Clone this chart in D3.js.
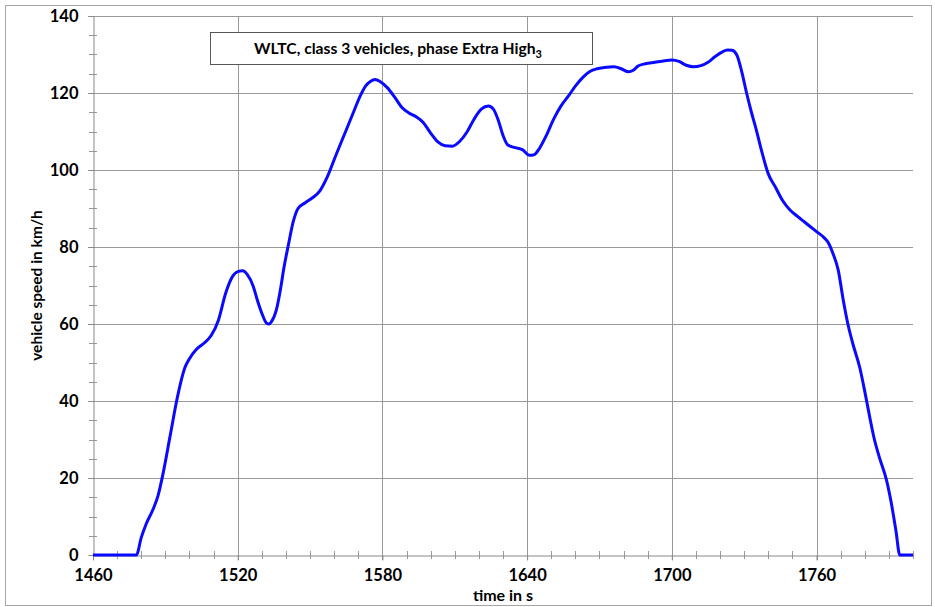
<!DOCTYPE html>
<html>
<head>
<meta charset="utf-8">
<script src="https://cdn.jsdelivr.net/npm/d3@7/dist/d3.min.js"></script>
<style>
  body { margin: 0; background: #fff; }
  svg text { font-family: Lato, "Open Sans", sans-serif; font-weight: bold; fill: #000; }
</style>
</head>
<body>
<div id="chart"></div>
<script>
// time in s
const times = [1460, 1478, 1480, 1482, 1485, 1487, 1489, 1492, 1495, 1498, 1500, 1503, 1506, 1509, 1512, 1515, 1518, 1520, 1522, 1524,
  1526.5, 1528, 1530, 1532, 1533, 1534, 1536, 1538, 1539, 1541, 1543, 1545, 1548, 1551, 1554, 1557, 1561, 1565, 1568, 1571,
  1573, 1575, 1577, 1579, 1582, 1585, 1588, 1591, 1594, 1597, 1600, 1603, 1606, 1609, 1612, 1615, 1618, 1621, 1624, 1626,
  1628, 1630, 1632, 1635, 1638, 1641, 1643, 1645, 1648, 1651, 1654, 1657, 1660, 1663, 1666, 1669, 1672, 1676, 1679, 1682,
  1684, 1686, 1689, 1693, 1697, 1700, 1703, 1706, 1709, 1712, 1715, 1718, 1721, 1723, 1725, 1727, 1729, 1731, 1733, 1735,
  1737, 1740, 1743, 1746, 1749, 1752, 1755, 1758, 1760, 1763, 1765, 1767, 1769, 1771, 1773, 1775, 1778, 1780, 1782, 1784,
  1786, 1789, 1791, 1793, 1794.5, 1800];
// vehicle speed in km/h
const speeds = [0, 0, 4.5, 8, 12, 15.5, 21, 31, 41, 48.5, 51, 53.5, 55, 57, 61, 68, 72.5, 73.6, 73.8, 72.8,
  69.7, 66.5, 62.8, 60.2, 60, 60.6, 63.6, 70, 74, 80.5, 86.5, 90, 91.5, 92.8, 94.5, 98, 104.3, 110.4, 115, 119.5,
  121.8, 123, 123.5, 123, 121.4, 119, 116.3, 114.8, 113.8, 112.3, 109.6, 107.3, 106.3, 106.2, 107.4, 109.8, 113.2, 115.8, 116.6, 115.8,
  113, 109, 106.5, 105.8, 105.3, 103.8, 104, 105.5, 109, 113.2, 116.6, 119.1, 121.8, 124, 125.6, 126.3, 126.6, 126.8, 126.3, 125.5,
  125.9, 127, 127.6, 128, 128.4, 128.6, 128.2, 127.2, 126.8, 127.1, 128, 129.5, 130.7, 131.2, 131.1, 129.8, 125.5, 120, 115, 110.5,
  105.5, 99, 95.5, 92, 89.6, 88, 86.5, 85, 84, 82.5, 81, 78, 74, 66.5, 60, 55, 48.5, 42.5, 36, 30,
  25.5, 19.5, 13.5, 6, 0, 0];

const xTicks = [1460, 1520, 1580, 1640, 1700, 1760];
const yTicks = [0, 20, 40, 60, 80, 100, 120, 140];

const width = 935, height = 607;
const plotLeft = 93, plotRight = 913, plotTop = 16, plotBottom = 555;

const svg = d3.select("#chart").append("svg")
  .attr("width", width)
  .attr("height", height);

// outer frame
svg.append("rect")
  .attr("x", 5.5).attr("y", 5.5)
  .attr("width", 926).attr("height", 600)
  .attr("fill", "none")
  .attr("stroke", "#a6a6a6");

const x = d3.scaleLinear().domain([1460, 1800]).range([plotLeft, plotRight]);
const y = d3.scaleLinear().domain([0, 140]).range([plotBottom, plotTop]);

// grid lines
svg.append("g")
  .selectAll("line")
  .data(yTicks.slice(1))
  .enter().append("line")
  .attr("x1", plotLeft - 5).attr("x2", plotRight)
  .attr("y1", d => Math.round(y(d)) + 0.5).attr("y2", d => Math.round(y(d)) + 0.5)
  .attr("stroke", "#999");

svg.append("g")
  .selectAll("line")
  .data(xTicks.slice(1))
  .enter().append("line")
  .attr("x1", d => Math.round(x(d)) + 0.5).attr("x2", d => Math.round(x(d)) + 0.5)
  .attr("y1", plotTop).attr("y2", plotBottom + 5)
  .attr("stroke", "#999");

// minor ticks
const xMinor = d3.range(1470, 1801, 10).filter(d => d % 60 != 20);
svg.append("g")
  .selectAll("line")
  .data(xMinor)
  .enter().append("line")
  .attr("x1", d => Math.round(x(d)) + 0.5).attr("x2", d => Math.round(x(d)) + 0.5)
  .attr("y1", plotBottom - 4).attr("y2", plotBottom + 4)
  .attr("stroke", "#999");

const yMinor = d3.range(5, 140, 5).filter(d => d % 20 != 0);
svg.append("g")
  .selectAll("line")
  .data(yMinor)
  .enter().append("line")
  .attr("x1", plotLeft - 4).attr("x2", plotLeft + 4)
  .attr("y1", d => Math.round(y(d)) + 0.5).attr("y2", d => Math.round(y(d)) + 0.5)
  .attr("stroke", "#999");

// axes
const xAxis = d3.axisBottom(x).tickValues(xTicks).tickFormat(d3.format("d"))
  .tickSize(5).tickSizeOuter(0).tickPadding(9);
const gx = svg.append("g")
  .attr("transform", `translate(0, ${plotBottom + 0.5})`)
  .call(xAxis);
gx.select(".domain").attr("stroke", "#888");
gx.selectAll(".tick line").attr("stroke", "#888");
gx.selectAll("text").style("font-size", "16.5px");

const yAxis = d3.axisLeft(y).tickValues(yTicks).tickFormat(d3.format("d"))
  .tickSize(5).tickSizeOuter(0).tickPadding(10);
const gy = svg.append("g")
  .attr("transform", `translate(${plotLeft + 0.5}, 0)`)
  .call(yAxis);
gy.select(".domain").attr("stroke", "#888");
gy.selectAll(".tick line").attr("stroke", "#888");
gy.selectAll("text").style("font-size", "16.5px");

// speed curve
const line = d3.line()
  .x((d, i) => x(times[i]))
  .y(d => y(d))
  .curve(d3.curveMonotoneX);

svg.append("path")
  .datum(speeds)
  .attr("fill", "none")
  .attr("stroke", "#0a0aff")
  .attr("stroke-width", 3)
  .attr("stroke-linejoin", "round")
  .attr("d", line);

// title box
svg.append("rect")
  .attr("x", 210.5).attr("y", 32.5)
  .attr("width", 382).attr("height", 32)
  .attr("fill", "#fff")
  .attr("stroke", "#555");

const title = svg.append("text")
  .attr("x", 398).attr("y", 54)
  .attr("text-anchor", "middle")
  .style("font-size", "15.7px");
title.append("tspan").text("WLTC, class 3 vehicles, phase Extra High");
title.append("tspan").attr("dy", 4).style("font-size", "11px").text("3");

// axis titles
svg.append("text")
  .attr("x", (plotLeft + plotRight) / 2).attr("y", 601)
  .attr("text-anchor", "middle")
  .style("font-size", "16px")
  .text("time in s");

svg.append("text")
  .attr("transform", `translate(42, ${(plotTop + plotBottom) / 2}) rotate(-90)`)
  .attr("text-anchor", "middle")
  .style("font-size", "15.5px")
  .text("vehicle speed in km/h");
</script>
</body>
</html>
